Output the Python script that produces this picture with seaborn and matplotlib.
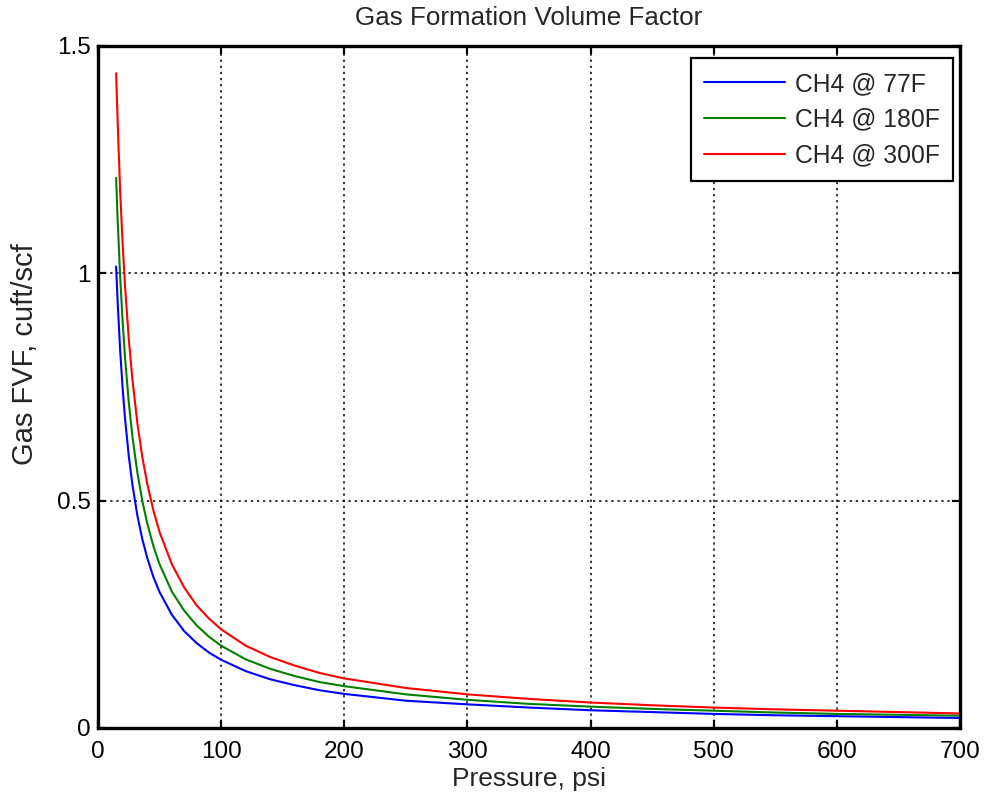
import numpy as np
import pandas as pd
import matplotlib
matplotlib.use("Agg")
import matplotlib.pyplot as plt
import seaborn as sns

# ---- data ----
pressure = [14.7, 16, 18, 20, 22, 25, 28, 32, 36, 40, 45, 50, 60, 70, 80, 90, 100,
            120, 140, 160, 180, 200, 250, 300, 350, 400, 450, 500, 550, 600, 650, 700]

bg_77F = [1.015, 0.935, 0.830, 0.747, 0.679, 0.598, 0.534, 0.467, 0.415, 0.374, 0.332,
          0.299, 0.249, 0.213, 0.187, 0.166, 0.150, 0.125, 0.107, 0.094, 0.083, 0.075,
          0.060, 0.052, 0.045, 0.039, 0.035, 0.031, 0.028, 0.026, 0.024, 0.022]

bg_180F = [1.210, 1.115, 0.992, 0.894, 0.813, 0.716, 0.640, 0.561, 0.499, 0.450, 0.400,
           0.360, 0.300, 0.258, 0.226, 0.201, 0.181, 0.151, 0.130, 0.114, 0.101, 0.092,
           0.074, 0.062, 0.053, 0.047, 0.042, 0.038, 0.034, 0.031, 0.029, 0.027]

bg_300F = [1.440, 1.330, 1.180, 1.065, 0.970, 0.855, 0.765, 0.670, 0.596, 0.537, 0.478,
           0.431, 0.360, 0.309, 0.270, 0.241, 0.217, 0.181, 0.156, 0.137, 0.121, 0.109,
           0.088, 0.074, 0.064, 0.056, 0.050, 0.045, 0.041, 0.038, 0.035, 0.032]

series_labels = ["CH4 @ 77F", "CH4 @ 180F", "CH4 @ 300F"]
series_colors = ["#0000FF", "#008000", "#FF0000"]

x_ticks = [0, 100, 200, 300, 400, 500, 600, 700]
y_ticks = [0, 0.5, 1, 1.5]
y_tick_labels = ["0", "0.5", "1", "1.5"]

df = pd.concat([
    pd.DataFrame({"Pressure": pressure, "Bg": vals, "Series": lab})
    for vals, lab in zip([bg_77F, bg_180F, bg_300F], series_labels)
], ignore_index=True)

# ---- styling ----
sns.set_style("white")
plt.rcParams["font.family"] = ["Liberation Sans", "DejaVu Sans"]

fig = plt.figure(figsize=(9.9, 8.0), dpi=100)
ax = fig.add_axes([98 / 990, 72 / 800, 862 / 990, 682 / 800])

sns.lineplot(data=df, x="Pressure", y="Bg", hue="Series", hue_order=series_labels,
             palette=series_colors, linewidth=1.5, errorbar=None, ax=ax)

ax.set_xlim(0, 700)
ax.set_ylim(0, 1.5)
ax.set_xticks(x_ticks)
ax.set_xticklabels([str(t) for t in x_ticks])
ax.set_yticks(y_ticks)
ax.set_yticklabels(y_tick_labels)

ax.grid(True, color="black", linestyle=(0, (1.5, 2.5)), linewidth=1.1)
ax.set_axisbelow(True)

for s in ax.spines.values():
    s.set_visible(True)
    s.set_color("black")
    s.set_linewidth(2.4)

ax.tick_params(axis="both", which="both", direction="in", length=6, width=1.6,
               top=True, right=True, bottom=True, left=True, labelsize=17.5, colors="black")
ax.tick_params(axis="x", pad=9)
ax.tick_params(axis="y", pad=5)

ax.set_xlabel("Pressure, psi", fontsize=19, labelpad=3)
ax.set_ylabel("Gas FVF, cuft/scf", fontsize=21)
ax.yaxis.set_label_coords((39 - 98) / 862, (728 - 354) / 682)
ax.set_title("Gas Formation Volume Factor", fontsize=18.75, pad=15)

leg = ax.legend(loc="upper right", bbox_to_anchor=(0.9922, 0.982), borderaxespad=0,
                fontsize=17.8, frameon=True, fancybox=False, handlelength=3.25,
                handletextpad=0.4, labelspacing=0.48, borderpad=0.55)
leg.get_frame().set_edgecolor("black")
leg.get_frame().set_linewidth(1.6)
leg.get_frame().set_facecolor("white")
leg.get_frame().set_alpha(1.0)

fig.savefig("out.png", dpi=100, facecolor="white")
